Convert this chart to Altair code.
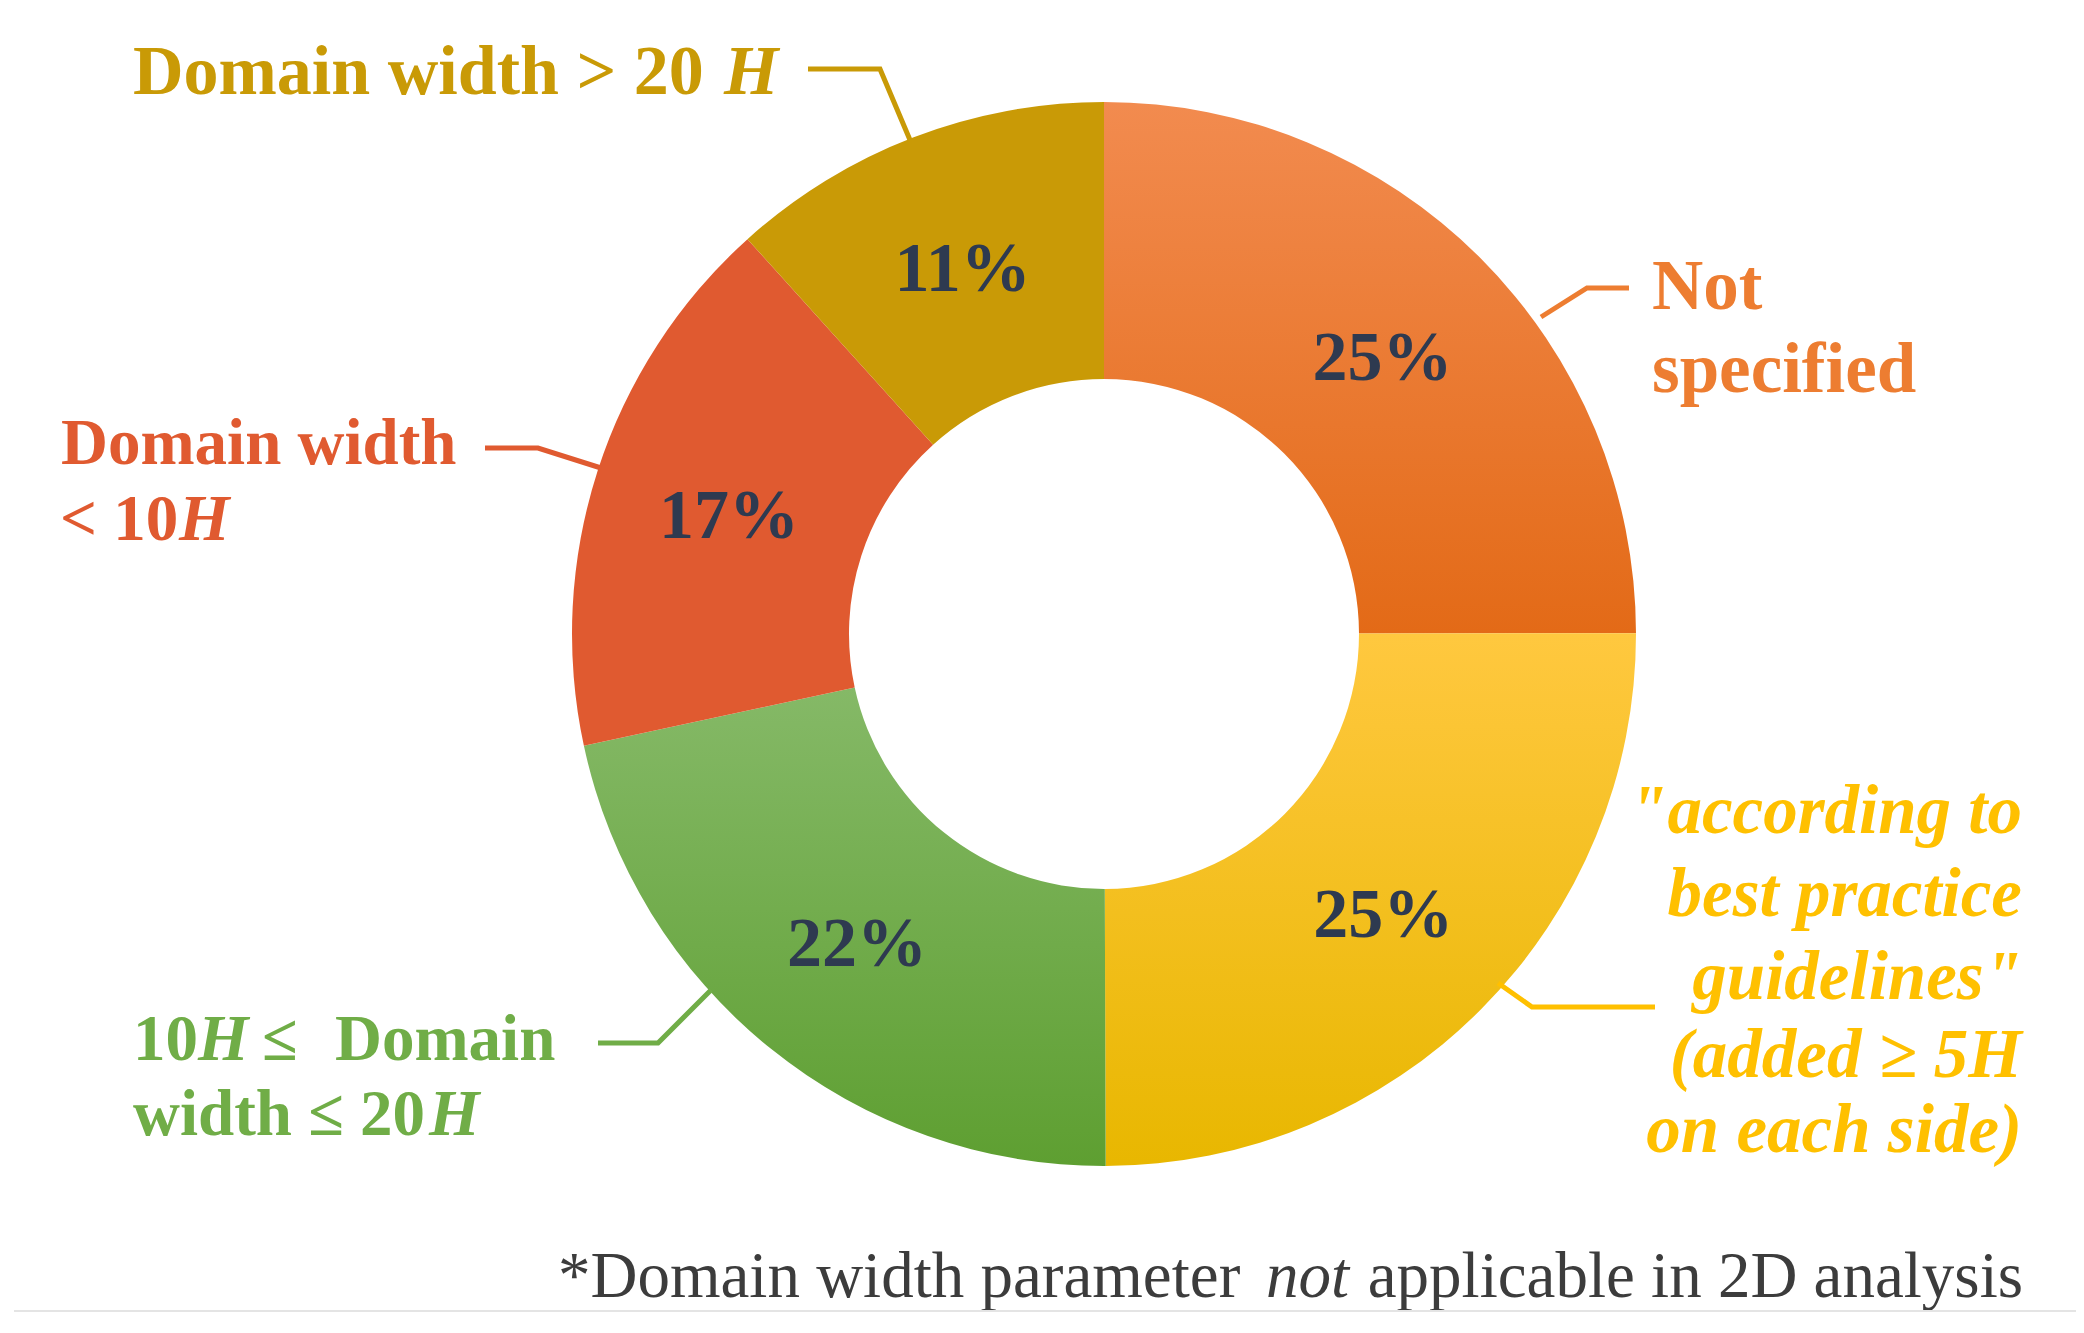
import altair as alt
import pandas as pd

# ---------------- data ----------------
categories = [
    "Not specified",
    "according to best practice guidelines",
    "10H <= Domain width <= 20H",
    "Domain width < 10H",
    "Domain width > 20H",
]
shares = [25, 25, 21.7, 16.7, 11.7]          # slice sizes
share_labels = ["25%", "25%", "22%", "17%", "11%"]  # printed labels
order = [1, 2, 3, 4, 5]

# ---------------- styles ----------------
slice_top = ["#F28B4F", "#FFC83F", "#85B967", "#E05A30", "#C99A06"]
slice_bottom = ["#E36A17", "#E8B700", "#5E9F31", "#E05A30", "#C99A06"]
label_color = ["#ED7D31", "#FFC000", "#70AD47", "#E05A30", "#C99A06"]
pct_color = "#2E3A50"
note_color = "#3C3C3C"
FONT = "Liberation Serif"

W, H = 2068, 1317
XS = alt.Scale(domain=[8, 8 + W], range=[0, W])
YS = alt.Scale(domain=[8, 8 + H], range=[0, H])
TS = alt.Scale(domain=[0, sum(shares)])
CX, CY = 1104, 634
R_OUT, R_IN, R_LAB = 532, 255, 394

df = pd.DataFrame({"cat": categories, "value": shares, "order": order,
                   "label": share_labels})

base = alt.Chart(df).transform_window(
    end="sum(value)", sort=[alt.SortField("order")], frame=[None, 0]
).transform_calculate(
    start="datum.end - datum.value",
    mid="datum.end - datum.value / 2",
)

layers = []
for i, c in enumerate(categories):
    grad = alt.LinearGradient(
        gradient="linear",
        stops=[alt.GradientStop(color=slice_top[i], offset=0),
               alt.GradientStop(color=slice_bottom[i], offset=1)],
        x1=0, x2=0, y1=0, y2=1,
    )
    layers.append(
        base.transform_filter(alt.datum.cat == c).mark_arc(
            innerRadius=R_IN, outerRadius=R_OUT, fill=grad, stroke=None
        ).encode(
            theta=alt.Theta("start:Q", scale=TS, stack=None),
            theta2="end:Q",
            x=alt.XDatum(CX, scale=XS, axis=None),
            y=alt.YDatum(CY, scale=YS, axis=None),
        )
    )

pct = base.mark_text(
    radius=R_LAB, font=FONT, fontWeight="bold", fontSize=70, color=pct_color,
    align="center", baseline="middle", dy=4,
).encode(
    theta=alt.Theta("mid:Q", scale=TS, stack=None),
    x=alt.XDatum(CX, scale=XS, axis=None),
    y=alt.YDatum(CY, scale=YS, axis=None),
    text="label:N",
)
layers.append(pct)

# ---------------- leader lines ----------------
lead_grp = [0, 0, 0, 1, 1, 1, 2, 2, 2, 3, 3, 3, 4, 4, 4]
lead_seq = [0, 1, 2] * 5
lead_x = [1541, 1587, 1629, 1498, 1532, 1655, 711, 658, 598, 601, 538, 485, 910, 880, 808]
lead_y = [317, 288, 288, 983, 1007, 1007, 990, 1043, 1043, 468, 448, 448, 140, 69, 69]
leads = pd.DataFrame({
    "grp": lead_grp, "seq": lead_seq, "x": lead_x, "y": lead_y,
    "color": [label_color[g] for g in lead_grp],
})
layers.append(
    alt.Chart(leads).mark_line(strokeWidth=5).encode(
        x=alt.X("x:Q", scale=XS, axis=None),
        y=alt.Y("y:Q", scale=YS, axis=None),
        detail="grp:N",
        order="seq:Q",
        color=alt.Color("color:N", scale=None),
    )
)

# ---------------- text labels ----------------
seg_text = [
    "Not", "specified",
    "\"according to", "best practice", "guidelines\"", "(added \u2265 5H", "on each side)",
    "10", "H", "\u2264", "Domain", "width \u2264 20", "H",
    "Domain width", "< 10", "H",
    "Domain width > 20", "H",
    "*Domain width parameter", "not", "applicable in 2D analysis",
]
seg_x = [1652, 1652,
         2022, 2022, 2022, 2022, 2022,
         133, 198, 262, 335, 133, 429,
         61, 60, 179,
         133, 724,
         558, 1266, 2023]
seg_y = [309, 392,
         833, 916, 999, 1077, 1152,
         1060, 1060, 1060, 1060, 1135, 1135,
         464, 540, 540,
         94, 94,
         1297, 1297, 1297]
seg_size = [71, 71,
            69, 69, 69, 69, 69,
            65, 65, 65, 65, 65, 65,
            65, 65, 65,
            70, 70,
            65, 65, 65]
seg_color = [label_color[0]] * 2 + [label_color[1]] * 5 + [label_color[2]] * 6 + \
    [label_color[3]] * 3 + [label_color[4]] * 2 + [note_color] * 3
seg_style = ["b", "b",
             "bir", "bir", "bir", "bir", "bir",
             "b", "bi", "b", "b", "b", "bi",
             "b", "b", "bi",
             "b", "bi",
             "r", "i", "rr"]
segs = pd.DataFrame({"text": seg_text, "x": seg_x, "y": seg_y, "size": seg_size,
                     "color": seg_color, "style": seg_style})

style_props = {
    "b": dict(fontWeight="bold", fontStyle="normal", align="left"),
    "bi": dict(fontWeight="bold", fontStyle="italic", align="left"),
    "bir": dict(fontWeight="bold", fontStyle="italic", align="right"),
    "r": dict(fontWeight="normal", fontStyle="normal", align="left"),
    "i": dict(fontWeight="normal", fontStyle="italic", align="left"),
    "rr": dict(fontWeight="normal", fontStyle="normal", align="right"),
}
for st, props in style_props.items():
    sub = segs[segs["style"] == st]
    layers.append(
        alt.Chart(sub).mark_text(font=FONT, baseline="alphabetic", **props).encode(
            x=alt.X("x:Q", scale=XS, axis=None),
            y=alt.Y("y:Q", scale=YS, axis=None),
            text="text:N",
            size=alt.Size("size:Q", scale=None, legend=None),
            color=alt.Color("color:N", scale=None),
        )
    )

# bottom hairline
layers.append(
    alt.Chart(pd.DataFrame({"a": [0]})).mark_rule(color="#E4E4E4", strokeWidth=2).encode(
        x=alt.XDatum(14, scale=XS, axis=None),
        x2=alt.X2Datum(2076),
        y=alt.YDatum(1311, scale=YS, axis=None),
    )
)

chart = alt.layer(*layers).properties(
    width=W, height=H, padding=0,
    autosize=alt.AutoSizeParams(type="none"),
    background="white",
).configure_view(stroke=None)

chart.save("out.html", embed_options={"renderer": "svg", "actions": False})
